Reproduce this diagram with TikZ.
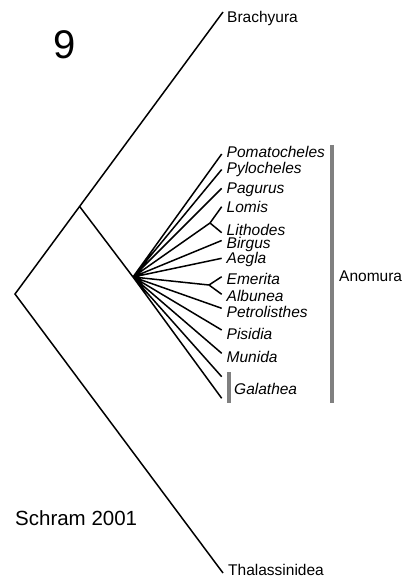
\documentclass[tikz,border=0pt]{standalone}
\usepackage{fontspec}
\setmainfont{Liberation Sans}
\usetikzlibrary{positioning}
\definecolor{bargray}{RGB}{128,128,128}

\begin{document}
\begin{tikzpicture}[x=1pt,y=-1pt]
    \tikzstyle{taxon} = [anchor=base west, inner sep=0pt,
    font=\fontsize{15.5}{18}\selectfont\itshape]
    \tikzstyle{clade} = [anchor=base west, inner sep=0pt,
    font=\fontsize{15.5}{18}\selectfont]
    \tikzstyle{bar} = [draw=bargray, line width=4pt]
    \useasboundingbox (0,0) rectangle (412,577);

    % inner nodes
    \coordinate (root) at (15,294);
    \coordinate (n1) at (80,207);
    \coordinate (ano) at (133,277);
    \coordinate (lom) at (210,223);
    \coordinate (eme) at (209,285);

    % tips
    \coordinate (brac) at (223,12);
    \coordinate (thal) at (223,573);
    \coordinate (t1) at (221.7,154);
    \coordinate (t2) at (221.7,169.5);
    \coordinate (t3) at (221.7,188.3);
    \coordinate (t4) at (221.7,206.7);
    \coordinate (t5) at (221.7,232.7);
    \coordinate (t6) at (221.7,240.5);
    \coordinate (t7) at (221.7,258.3);
    \coordinate (t8) at (221.7,276.7);
    \coordinate (t9) at (221.7,294.3);
    \coordinate (t10) at (221.7,308.3);
    \coordinate (t11) at (221.7,330);
    \coordinate (t12) at (221.7,353.3);
    \coordinate (t13) at (221.7,376.7);
    \coordinate (t14) at (221.7,398.3);

    \draw
    (227,23) node [clade] (lbrac) {Brachyura}
    (228,575) node [clade] (lthal) {Thalassinidea}
    (226.5,157.7) node [taxon] (l1) {Pomatocheles}
    (226.5,174) node [taxon] (l2) {Pylocheles}
    (226.5,193.5) node [taxon] (l3) {Pagurus}
    (226.5,212.5) node [taxon] (l4) {Lomis}
    (226.5,235.5) node [taxon] (l5) {Lithodes}
    (226.5,248) node [taxon] (l6) {Birgus}
    (226.5,263) node [taxon] (l7) {Aegla}
    (226.5,284.3) node [taxon] (l8) {Emerita}
    (226.5,301) node [taxon] (l9) {Albunea}
    (226.5,317.7) node [taxon] (l10) {Petrolisthes}
    (226.5,339.3) node [taxon] (l11) {Pisidia}
    (226.5,362) node [taxon] (l12) {Munida}
    (234,394.3) node [taxon] (l13) {Galathea}
    (339,281.7) node [clade] (lano) {Anomura}
    (53,58.3) node [anchor=base west, inner sep=0pt,
    font=\fontsize{40}{44}\selectfont] (fig) {9}
    (15,525) node [anchor=base west, inner sep=0pt,
    font=\fontsize{20.5}{24}\selectfont] (src) {Schram 2001}
;

    \draw[line width=1.5pt]
    (brac)--(root)--(thal)
    (n1)--(ano)
    (ano)--(t1) (ano)--(t2) (ano)--(t3) (ano)--(lom) (ano)--(t6)
    (ano)--(t7) (ano)--(eme) (ano)--(t10) (ano)--(t11) (ano)--(t12)
    (ano)--(t13) (ano)--(t14)
    (t4)--(lom)--(t5)
    (t8)--(eme)--(t9)
;

    \draw[bar] (331.5,145)--(331.5,403);
    \draw[bar] (228.5,372)--(228.5,403);

  \end{tikzpicture}
\end{document}
